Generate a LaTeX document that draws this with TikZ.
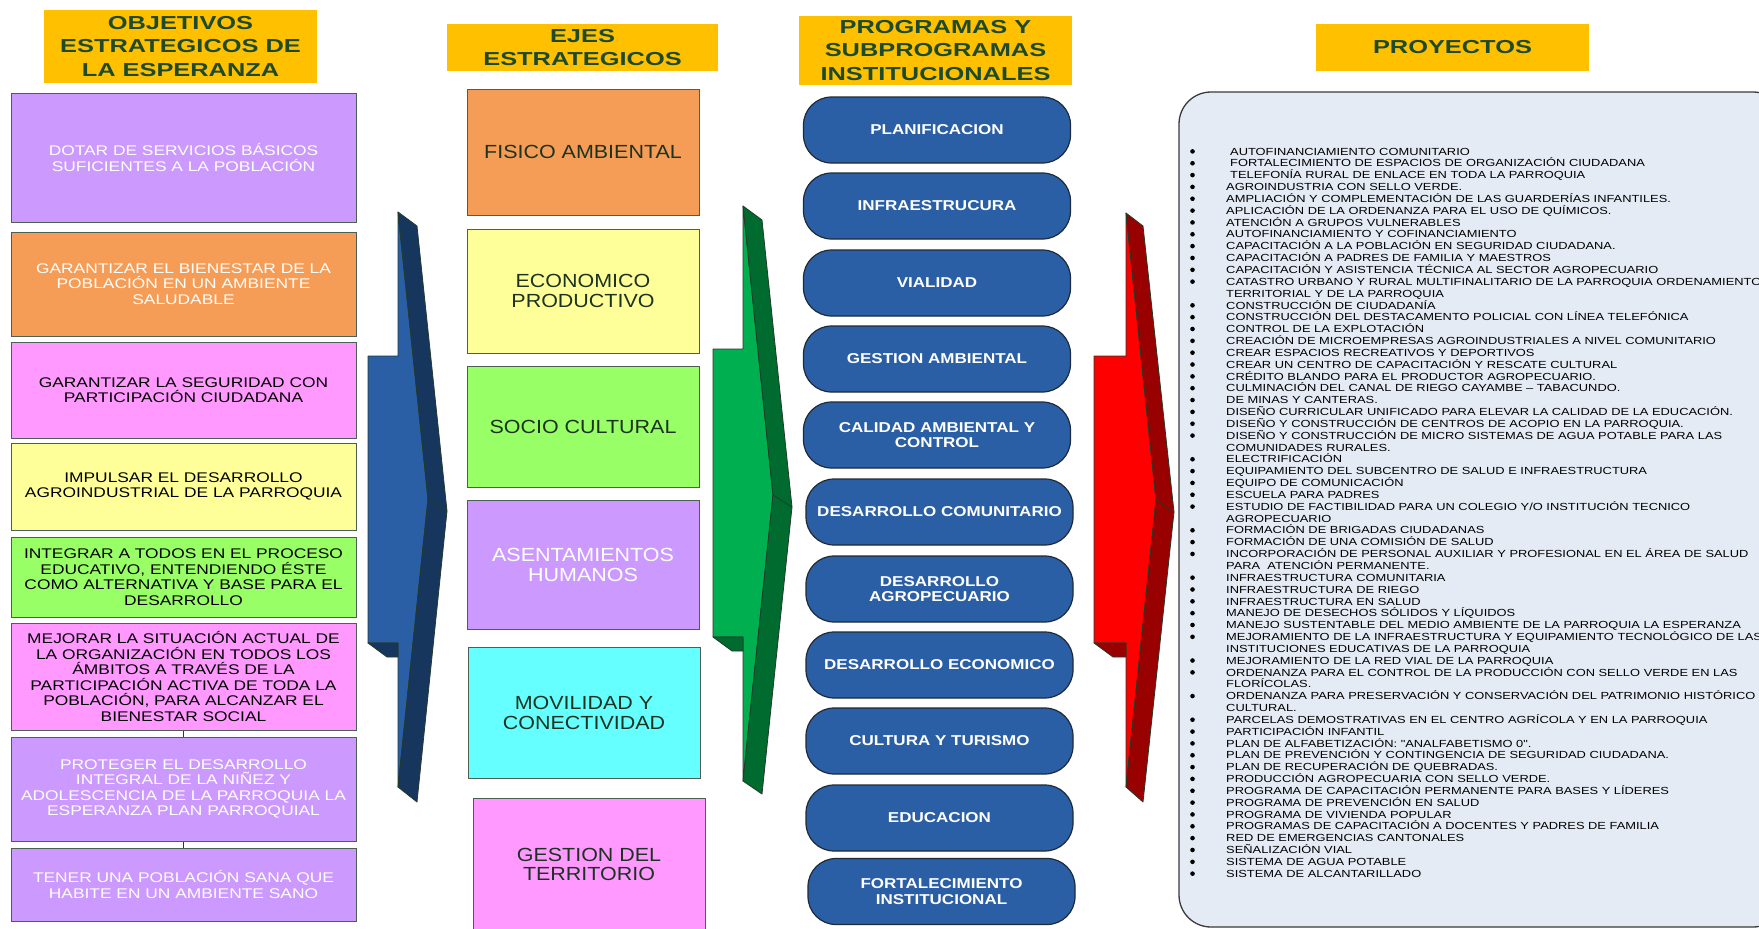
\documentclass[tikz,border=0pt]{standalone}
\usepackage{fontspec}
\setmainfont{Liberation Sans}
\newfontfamily\fHead[FakeStretch=1.35]{Liberation Sans}
\newfontfamily\fObj[FakeStretch=1.24]{Liberation Sans}
\newfontfamily\fEje[FakeStretch=1.13]{Liberation Sans}
\newfontfamily\fProg[FakeStretch=1.19]{Liberation Sans}
\newfontfamily\fProj[FakeStretch=1.25]{Liberation Sans}
\definecolor{cHdr}{HTML}{FFC000}
\definecolor{cHdrTxt}{HTML}{1D4A2B}
\definecolor{cPurp}{HTML}{CC99FF}
\definecolor{cOran}{HTML}{F59D56}
\definecolor{cPink}{HTML}{FF99FF}
\definecolor{cYell}{HTML}{FFFF99}
\definecolor{cLGreen}{HTML}{99FF66}
\definecolor{cCyan}{HTML}{66FFFF}
\definecolor{cProg}{HTML}{2A5FA6}
\definecolor{cProgEdge}{HTML}{1F2A36}
\definecolor{cBlueF}{HTML}{2A5FA6}
\definecolor{cBlueD}{HTML}{17365D}
\definecolor{cGreenF}{HTML}{00B050}
\definecolor{cGreenD}{HTML}{006B2E}
\definecolor{cRedF}{HTML}{FF0000}
\definecolor{cRedD}{HTML}{990000}
\definecolor{cEdge}{HTML}{4B5F52}
\definecolor{cEjeTxt}{HTML}{1B3320}
\definecolor{cProjFill}{HTML}{E5EBF5}
\definecolor{cProjEdge}{HTML}{3A3A3A}
\definecolor{cArrEdge}{HTML}{233A2B}
\begin{document}
\begin{tikzpicture}[x=1pt,y=-1pt,
  hdr/.style={fill=cHdr, text=cHdrTxt, align=center, inner sep=0pt,
    font=\fHead\bfseries\fontsize{18.8}{23.3}\selectfont},
  objbox/.style={draw=cEdge, line width=1pt, align=center, inner sep=0pt,
    minimum width=345pt, font=\fObj\fontsize{14}{15.5}\selectfont},
  ejebox/.style={draw=cEdge, line width=1pt, align=center, inner sep=0pt,
    minimum width=232pt, text=cEjeTxt, font=\fEje\fontsize{19}{19.5}\selectfont},
  progbox/.style={draw=cProgEdge, line width=1.2pt, fill=cProg, rounded corners=28pt,
    minimum width=267pt, minimum height=66pt, align=center, inner sep=0pt, text=white,
    font=\fProg\bfseries\fontsize{14.3}{15.7}\selectfont},
  arrface/.style={draw=cArrEdge, line width=0.8pt, line join=round},
  conn/.style={draw=black!80, line width=1pt},
  projtxt/.style={anchor=base west, inner sep=0pt, text=black,
    font=\fProj\fontsize{10.3}{11.84}\selectfont}
]
\clip (0,0) rectangle (1759,929);
\fill[white] (0,0) rectangle (1759,929);

% ---------- headers
\node[hdr, minimum width=273pt, minimum height=73pt] (h1) at (180.5,46.5) {OBJETIVOS\\ESTRATEGICOS DE\\LA ESPERANZA};
\node[hdr, minimum width=271pt, minimum height=47pt] (h2) at (582.5,47.5) {EJES\\ESTRATEGICOS};
\node[hdr, minimum width=273pt, minimum height=69pt] (h3) at (935.5,50.5) {PROGRAMAS Y\\SUBPROGRAMAS\\INSTITUCIONALES};
\node[hdr, minimum width=273pt, minimum height=47pt] (h4) at (1452.5,47.5) {PROYECTOS};

% ---------- objectives
\node[objbox, fill=cPurp, text=white, minimum height=129pt] (o1) at (183.5,157.5) {DOTAR DE SERVICIOS BÁSICOS\\SUFICIENTES A LA POBLACIÓN};
\node[objbox, fill=cOran, text=white, minimum height=104pt] (o2) at (183.5,284) {GARANTIZAR EL BIENESTAR DE LA\\POBLACIÓN EN UN AMBIENTE\\SALUDABLE};
\node[objbox, fill=cPink, text=black, minimum height=96pt] (o3) at (183.5,390) {GARANTIZAR LA SEGURIDAD CON\\PARTICIPACIÓN CIUDADANA};
\node[objbox, fill=cYell, text=black, minimum height=87pt] (o4) at (183.5,486.5) {IMPULSAR EL DESARROLLO\\AGROINDUSTRIAL DE LA PARROQUIA};
\node[objbox, fill=cLGreen, text=black, minimum height=80pt] (o5) at (183.5,577) {INTEGRAR A TODOS EN EL PROCESO\\EDUCATIVO, ENTENDIENDO ÉSTE\\COMO ALTERNATIVA Y BASE PARA EL\\DESARROLLO};
\node[objbox, fill=cPink, text=black, minimum height=107pt] (o6) at (183.5,676.5) {MEJORAR LA SITUACIÓN ACTUAL DE\\LA ORGANIZACIÓN EN TODOS LOS\\ÁMBITOS A TRAVÉS DE LA\\PARTICIPACIÓN ACTIVA DE TODA LA\\POBLACIÓN, PARA ALCANZAR EL\\BIENESTAR SOCIAL};
\node[objbox, fill=cPurp, text=white, minimum height=104pt] (o7) at (183.5,789) {PROTEGER EL DESARROLLO\\INTEGRAL DE LA NIÑEZ Y\\ADOLESCENCIA DE LA PARROQUIA LA\\ESPERANZA PLAN PARROQUIAL};
\node[objbox, fill=cPurp, text=white, minimum height=73pt] (o8) at (183.5,884.5) {TENER UNA POBLACIÓN SANA QUE\\HABITE EN UN AMBIENTE SANO};
\draw[conn] (o6.south) -- (o7.north);
\draw[conn] (o7.south) -- (o8.north);

% ---------- blue arrow
\draw[arrface, fill=cBlueF] (398,212) -- (428,499) -- (398,787) -- (398,643) -- (368,643) -- (368,356) -- (398,356) -- cycle;
\draw[arrface, fill=cBlueD] (398,212) -- (417,226) -- (447,511) -- (417,802) -- (398,787) -- (428,499) -- cycle;
\draw[arrface, fill=cBlueD] (368,643) -- (387,657) -- (398,657) -- (398,643) -- cycle;
\draw[arrface] (428,499) -- (447,511);

% ---------- ejes
\node[ejebox, fill=cOran, minimum height=126pt] (e1) at (583,152) {FISICO AMBIENTAL};
\node[ejebox, fill=cYell, minimum height=124pt] (e2) at (583,291) {ECONOMICO\\PRODUCTIVO};
\node[ejebox, fill=cLGreen, minimum height=121pt] (e3) at (583,427) {SOCIO CULTURAL};
\node[ejebox, fill=cPurp, text=white, minimum height=129pt] (e4) at (583,565) {ASENTAMIENTOS\\HUMANOS};
\node[ejebox, fill=cCyan, minimum height=131pt] (e5) at (584,713) {MOVILIDAD Y\\CONECTIVIDAD};
\node[ejebox, fill=cPink, minimum height=133pt] (e6) at (589,864.5) {GESTION DEL\\TERRITORIO};

% ---------- green arrow
\draw[arrface, fill=cGreenF] (743,206) -- (773,495) -- (743,781) -- (743,637) -- (713,637) -- (713,349) -- (743,349) -- cycle;
\draw[arrface, fill=cGreenD] (743,206) -- (762,220) -- (792,507) -- (762,794) -- (743,781) -- (773,495) -- cycle;
\draw[arrface, fill=cGreenD] (713,637) -- (732,651) -- (743,651) -- (743,637) -- cycle;
\draw[arrface] (773,495) -- (792,507);

% ---------- programs
\node[progbox] (p1) at (937,130) {PLANIFICACION};
\node[progbox] (p2) at (937,206) {INFRAESTRUCURA};
\node[progbox] (p3) at (937,283) {VIALIDAD};
\node[progbox] (p4) at (937,359) {GESTION AMBIENTAL};
\node[progbox] (p5) at (937,435) {CALIDAD AMBIENTAL Y\\CONTROL};
\node[progbox] (p6) at (939.5,512) {DESARROLLO COMUNITARIO};
\node[progbox] (p7) at (939.5,589) {DESARROLLO\\AGROPECUARIO};
\node[progbox] (p8) at (939.5,665) {DESARROLLO ECONOMICO};
\node[progbox] (p9) at (939.5,741) {CULTURA Y TURISMO};
\node[progbox] (p10) at (939.5,818) {EDUCACION};
\node[progbox] (p11) at (941.5,891.5) {FORTALECIMIENTO\\INSTITUCIONAL};

% ---------- red arrow
\draw[arrface, fill=cRedF] (1126,213) -- (1156,500) -- (1126,787) -- (1126,643) -- (1094,643) -- (1094,356) -- (1126,356) -- cycle;
\draw[arrface, fill=cRedD] (1126,213) -- (1143,226) -- (1174,512) -- (1143,802) -- (1126,787) -- (1156,500) -- cycle;
\draw[arrface, fill=cRedD] (1094,643) -- (1113,657) -- (1126,657) -- (1126,643) -- cycle;
\draw[arrface] (1156,500) -- (1174,512);

% ---------- projects box
\node[draw=cProjEdge, line width=1.3pt, fill=cProjFill, rounded corners=32pt,
  minimum width=606pt, minimum height=835pt, inner sep=0pt] (pbox) at (1482,509.5) {};

\foreach \i/\xo/\bu/\t in {
1/1230/1/AUTOFINANCIAMIENTO COMUNITARIO,
2/1230/1/FORTALECIMIENTO DE ESPACIOS DE ORGANIZACIÓN CIUDADANA,
3/1230/1/TELEFONÍA RURAL DE ENLACE EN TODA LA PARROQUIA,
4/1226/1/AGROINDUSTRIA CON SELLO VERDE.,
5/1226/1/AMPLIACIÓN Y COMPLEMENTACIÓN DE LAS GUARDERÍAS INFANTILES.,
6/1226/1/APLICACIÓN DE LA ORDENANZA PARA EL USO DE QUÍMICOS.,
7/1226/1/ATENCIÓN A GRUPOS VULNERABLES,
8/1226/1/AUTOFINANCIAMIENTO Y COFINANCIAMIENTO,
9/1226/1/CAPACITACIÓN A LA POBLACIÓN EN SEGURIDAD CIUDADANA.,
10/1226/1/CAPACITACIÓN A PADRES DE FAMILIA Y MAESTROS,
11/1226/1/CAPACITACIÓN Y ASISTENCIA TÉCNICA AL SECTOR AGROPECUARIO,
12/1226/1/CATASTRO URBANO Y RURAL MULTIFINALITARIO DE LA PARROQUIA ORDENAMIENTO,
13/1226/0/TERRITORIAL Y DE LA PARROQUIA,
14/1226/1/CONSTRUCCIÓN DE CIUDADANÍA,
15/1226/1/CONSTRUCCIÓN DEL DESTACAMENTO POLICIAL CON LÍNEA TELEFÓNICA,
16/1226/1/CONTROL DE LA EXPLOTACIÓN,
17/1226/1/CREACIÓN DE MICROEMPRESAS AGROINDUSTRIALES A NIVEL COMUNITARIO,
18/1226/1/CREAR ESPACIOS RECREATIVOS Y DEPORTIVOS,
19/1226/1/CREAR UN CENTRO DE CAPACITACIÓN Y RESCATE CULTURAL,
20/1226/1/CRÉDITO BLANDO PARA EL PRODUCTOR AGROPECUARIO.,
21/1226/1/CULMINACIÓN DEL CANAL DE RIEGO CAYAMBE – TABACUNDO.,
22/1226/1/DE MINAS Y CANTERAS.,
23/1226/1/DISEÑO CURRICULAR UNIFICADO PARA ELEVAR LA CALIDAD DE LA EDUCACIÓN.,
24/1226/1/DISEÑO Y CONSTRUCCIÓN DE CENTROS DE ACOPIO EN LA PARROQUIA.,
25/1226/1/DISEÑO Y CONSTRUCCIÓN DE MICRO SISTEMAS DE AGUA POTABLE PARA LAS,
26/1226/0/COMUNIDADES RURALES.,
27/1226/1/ELECTRIFICACIÓN,
28/1226/1/EQUIPAMIENTO DEL SUBCENTRO DE SALUD E INFRAESTRUCTURA,
29/1226/1/EQUIPO DE COMUNICACIÓN,
30/1226/1/ESCUELA PARA PADRES,
31/1226/1/{ESTUDIO DE FACTIBILIDAD PARA UN COLEGIO Y/O INSTITUCIÓN TECNICO},
32/1226/0/AGROPECUARIO,
33/1226/1/FORMACIÓN DE BRIGADAS CIUDADANAS,
34/1226/1/FORMACIÓN DE UNA COMISIÓN DE SALUD,
35/1226/1/INCORPORACIÓN DE PERSONAL AUXILIAR Y PROFESIONAL EN EL ÁREA DE SALUD,
36/1226/0/PARA\ \ ATENCIÓN PERMANENTE.,
37/1226/1/INFRAESTRUCTURA COMUNITARIA,
38/1226/1/INFRAESTRUCTURA DE RIEGO,
39/1226/1/INFRAESTRUCTURA EN SALUD,
40/1226/1/MANEJO DE DESECHOS SÓLIDOS Y LÍQUIDOS,
41/1226/1/MANEJO SUSTENTABLE DEL MEDIO AMBIENTE DE LA PARROQUIA LA ESPERANZA,
42/1226/1/MEJORAMIENTO DE LA INFRAESTRUCTURA Y EQUIPAMIENTO TECNOLÓGICO DE LAS,
43/1226/0/INSTITUCIONES EDUCATIVAS DE LA PARROQUIA,
44/1226/1/MEJORAMIENTO DE LA RED VIAL DE LA PARROQUIA,
45/1226/1/ORDENANZA PARA EL CONTROL DE LA PRODUCCIÓN CON SELLO VERDE EN LAS,
46/1226/0/FLORÍCOLAS.,
47/1226/1/ORDENANZA PARA PRESERVACIÓN Y CONSERVACIÓN DEL PATRIMONIO HISTÓRICO,
48/1226/0/CULTURAL.,
49/1226/1/PARCELAS DEMOSTRATIVAS EN EL CENTRO AGRÍCOLA Y EN LA PARROQUIA,
50/1226/1/PARTICIPACIÓN INFANTIL,
51/1226/1/PLAN DE ALFABETIZACIÓN: "ANALFABETISMO 0".,
52/1226/1/PLAN DE PREVENCIÓN Y CONTINGENCIA DE SEGURIDAD CIUDADANA.,
53/1226/1/PLAN DE RECUPERACIÓN DE QUEBRADAS.,
54/1226/1/PRODUCCIÓN AGROPECUARIA CON SELLO VERDE.,
55/1226/1/PROGRAMA DE CAPACITACIÓN PERMANENTE PARA BASES Y LÍDERES,
56/1226/1/PROGRAMA DE PREVENCIÓN EN SALUD,
57/1226/1/PROGRAMA DE VIVIENDA POPULAR,
58/1226/1/PROGRAMAS DE CAPACITACIÓN A DOCENTES Y PADRES DE FAMILIA,
59/1226/1/RED DE EMERGENCIAS CANTONALES,
60/1226/1/SEÑALIZACIÓN VIAL,
61/1226/1/SISTEMA DE AGUA POTABLE,
62/1226/1/SISTEMA DE ALCANTARILLADO}{
  \pgfmathsetmacro\yy{155.1+(\i-1)*11.84}
  \node[projtxt] (pj\i) at (\xo,\yy) {\t};
  \ifnum\bu=1 \fill[black] (1192.5,\yy-3.7) circle (2.3pt); \fi
}
\end{tikzpicture}
\end{document}
